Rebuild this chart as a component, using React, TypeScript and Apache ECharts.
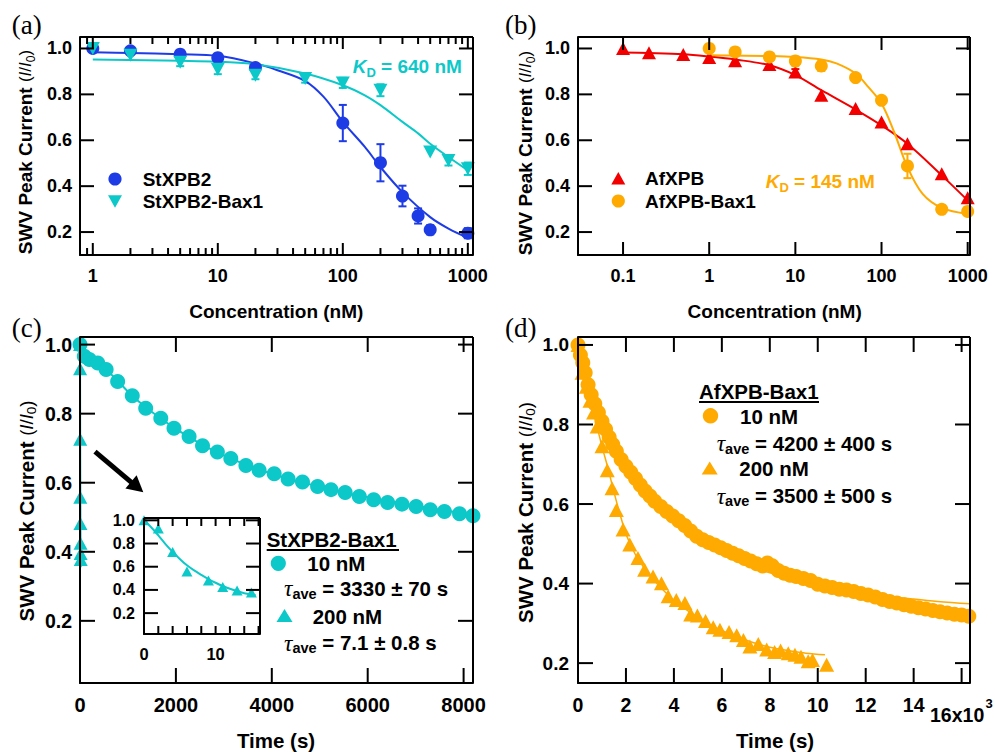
import React, { useEffect, useRef } from 'react';
import * as echarts from 'echarts';

const LS = 'Liberation Sans';
const SERIF = 'Liberation Serif';
const BLUE = '#1e3ce6';
const CYAN = '#0cc8c8';
const RED = '#f20000';
const ORANGE = '#ffaa00';

const stxpb2 = [[1, 1.0, 0.01], [2, 0.99, 0.01], [5, 0.975, 0.01], [10, 0.96, 0.01], [20, 0.917, 0.012], [100, 0.675, 0.079], [200, 0.502, 0.081], [300, 0.357, 0.045], [400, 0.27, 0.033], [500, 0.21, 0.02], [1000, 0.195, 0.022]];
const stxpb2Bax1 = [[1, 1.0, 0.0], [2, 0.97, 0.01], [5, 0.94, 0.017], [10, 0.91, 0.022], [20, 0.883, 0.017], [50, 0.869, 0.018], [100, 0.85, 0.022], [200, 0.818, 0.026], [500, 0.549, 0.01], [700, 0.512, 0.022], [1000, 0.476, 0.027]];
const stxpb2Fit = [[1, 0.983], [2, 0.98], [5, 0.975], [10, 0.968], [20, 0.935], [30, 0.905], [50, 0.858], [70, 0.79], [100, 0.68], [150, 0.571], [200, 0.483], [300, 0.374], [500, 0.265], [700, 0.215], [1000, 0.175]];
const stxpb2Bax1Fit = [[1, 0.952], [5, 0.946], [10, 0.942], [20, 0.931], [50, 0.891], [100, 0.84], [150, 0.796], [200, 0.753], [300, 0.68], [400, 0.63], [500, 0.585], [700, 0.527], [1000, 0.469]];

const afxpb = [[0.1, 1.0, 0], [0.2, 0.981, 0], [0.5, 0.974, 0], [1, 0.961, 0.01], [2, 0.946, 0.01], [5, 0.93, 0.01], [10, 0.898, 0.012], [20, 0.796, 0.01], [50, 0.738, 0.01], [100, 0.68, 0.01], [200, 0.585, 0.01], [500, 0.454, 0.01], [1000, 0.35, 0.01]];
const afxpbBax1 = [[1, 1.0, 0], [2, 0.985, 0.01], [5, 0.963, 0.015], [10, 0.945, 0.02], [20, 0.924, 0.022], [50, 0.873, 0.01], [100, 0.774, 0.015], [200, 0.488, 0.053], [500, 0.299, 0.018], [1000, 0.29, 0.018]];
const afxpbFit = [[0.1, 0.982], [0.2, 0.98], [0.5, 0.975], [1, 0.965], [2, 0.952], [5, 0.927], [10, 0.884], [20, 0.818], [50, 0.734], [100, 0.665], [200, 0.585], [500, 0.447], [1000, 0.338]];
const afxpbBax1Fit = [[1, 0.971], [5, 0.967], [10, 0.963], [20, 0.952], [30, 0.935], [50, 0.891], [70, 0.833], [100, 0.76], [140, 0.636], [200, 0.483], [300, 0.366], [500, 0.305], [1000, 0.279]];

const c10nM = [[0, 1.0], [90, 0.966], [195, 0.957], [370, 0.947], [545, 0.928], [785, 0.893], [1090, 0.852], [1370, 0.816], [1685, 0.787], [1960, 0.758], [2275, 0.734], [2555, 0.707], [2865, 0.689], [3145, 0.67], [3460, 0.65], [3735, 0.636], [4050, 0.626], [4340, 0.611], [4640, 0.602], [4955, 0.589], [5235, 0.58], [5530, 0.572], [5825, 0.56], [6125, 0.551], [6415, 0.543], [6715, 0.538], [7010, 0.531], [7305, 0.522], [7600, 0.517], [7915, 0.51], [8195, 0.504]];
const c10nMFit = [[0, 0.975], [200, 0.955], [400, 0.94], [600, 0.92], [800, 0.893], [1000, 0.864], [1200, 0.838], [1500, 0.805], [2000, 0.756], [2500, 0.714], [3000, 0.679], [3500, 0.65], [4000, 0.626], [4500, 0.606], [5000, 0.588], [5500, 0.572], [6000, 0.558], [6500, 0.545], [7000, 0.533], [7500, 0.522], [8000, 0.512], [8196, 0.508]];
const c200nM = [[0, 1.0], [2, 0.93], [4, 0.726], [6, 0.558], [9, 0.482], [11, 0.425], [13, 0.395], [15, 0.378]];
const c200nMFit = [[0, 1.0], [1, 0.94], [2, 0.87], [3, 0.795], [4, 0.728], [5, 0.667], [6, 0.612], [7, 0.568], [8, 0.53], [9, 0.494], [10, 0.462], [11, 0.434], [12, 0.41], [13, 0.39], [14, 0.372], [15, 0.36], [15.6, 0.355]];

const d10nM = [[0, 1.0], [100, 0.975], [200, 0.955], [300, 0.93], [420, 0.9], [550, 0.875], [700, 0.852], [850, 0.83], [1000, 0.808], [1150, 0.788], [1300, 0.768], [1450, 0.75], [1600, 0.733], [1800, 0.712], [2000, 0.695], [2200, 0.68], [2400, 0.664], [2600, 0.648], [2800, 0.633], [3000, 0.62], [3200, 0.607], [3450, 0.594], [3700, 0.581], [3950, 0.57], [4200, 0.558], [4450, 0.546], [4700, 0.532], [4950, 0.519], [5200, 0.51], [5450, 0.503], [5700, 0.497], [5950, 0.49], [6200, 0.483], [6450, 0.476], [6700, 0.47], [6950, 0.463], [7200, 0.457], [7450, 0.45], [7700, 0.444], [7900, 0.452], [8100, 0.445], [8350, 0.433], [8600, 0.426], [8850, 0.421], [9100, 0.418], [9400, 0.413], [9700, 0.408], [10000, 0.398], [10300, 0.394], [10600, 0.39], [10900, 0.386], [11200, 0.384], [11500, 0.38], [11800, 0.375], [12100, 0.371], [12400, 0.366], [12700, 0.36], [13000, 0.355], [13300, 0.351], [13600, 0.347], [13900, 0.343], [14200, 0.339], [14500, 0.336], [14800, 0.332], [15100, 0.329], [15400, 0.326], [15700, 0.323], [16000, 0.321], [16300, 0.318]];
const d10nMFit = [[0, 1.0], [250, 0.94], [500, 0.89], [750, 0.85], [1000, 0.81], [1500, 0.745], [2000, 0.695], [2500, 0.65], [3000, 0.613], [3500, 0.583], [4000, 0.556], [4500, 0.532], [5000, 0.51], [5500, 0.49], [6000, 0.472], [6500, 0.46], [7000, 0.448], [7500, 0.437], [8000, 0.427], [9000, 0.411], [10000, 0.398], [11000, 0.387], [12000, 0.377], [13000, 0.368], [14000, 0.361], [15000, 0.355], [16350, 0.349]];
const d200nM = [[0, 1.0], [170, 0.93], [350, 0.895], [500, 0.86], [650, 0.83], [800, 0.795], [1000, 0.745], [1220, 0.685], [1420, 0.64], [1600, 0.585], [1880, 0.536], [2160, 0.498], [2500, 0.464], [2780, 0.435], [3130, 0.418], [3480, 0.401], [3760, 0.368], [4100, 0.359], [4460, 0.351], [4700, 0.322], [4980, 0.32], [5320, 0.306], [5640, 0.29], [5920, 0.284], [6300, 0.278], [6620, 0.27], [6900, 0.258], [7170, 0.242], [7520, 0.248], [7870, 0.234], [8200, 0.228], [8450, 0.232], [8770, 0.225], [9050, 0.221], [9300, 0.216], [9600, 0.205], [9780, 0.208], [10370, 0.196]];
const d200nMFit = [[0, 1.0], [250, 0.93], [500, 0.865], [750, 0.805], [1000, 0.745], [1250, 0.69], [1500, 0.63], [1750, 0.575], [2000, 0.525], [2250, 0.49], [2500, 0.462], [3000, 0.42], [3500, 0.387], [4000, 0.358], [4500, 0.335], [5000, 0.315], [5500, 0.297], [6000, 0.282], [6500, 0.269], [7000, 0.258], [7500, 0.248], [8000, 0.24], [8500, 0.234], [9000, 0.229], [9500, 0.225], [10300, 0.221]];

const ticksLogA = [1, 10, 100, 1000];
const minorTicksA = [0.9, 2, 3, 4, 5, 6, 7, 8, 9, 20, 30, 40, 50, 60, 70, 80, 90, 200, 300, 400, 500, 600, 700, 800, 900];
const ticksLogB = [0.1, 1, 10, 100, 1000];
const ticksY = [0.2, 0.4, 0.6, 0.8, 1.0];
const ticksTimeC = [2000, 4000, 6000, 8000];
const ticksTimeD = [2000, 4000, 6000, 8000, 10000, 12000, 14000, 16000];
const ticksInsetX = [2, 4, 6, 8, 10, 12, 14, 16];

const rA = { x: [0.79, 1100], y: [0.1, 1.05] };
const rB = { x: [0.03, 1064], y: [0.1, 1.05] };
const rC = { x: [0, 8196], y: [0.02, 1.022] };
const rD = { x: [0, 16350], y: [0.15, 1.02] };
const rI = { x: [0, 16.2], y: [0.02, 1.02] };

const fmt02 = (v: number) => {
  const k = v * 5;
  return Math.abs(k - Math.round(k)) < 1e-6 && v > 0.15 ? v.toFixed(1) : '';
};
const fmtLog = (v: number) => {
  const l = Math.log10(v);
  const r = Math.round(l);
  if (Math.abs(l - r) > 1e-6) return '';
  return r >= 0 ? String(Math.pow(10, r)) : Math.pow(10, r).toFixed(-r);
};
const fmtC = (v: number) => (Math.abs(v % 2000) < 1e-6 ? String(v) : '');
const fmtD = (v: number) => (Math.abs(v % 2000) < 1e-6 && v < 15000 ? String(v / 1000) : '');
const fmtI = (v: number) => (v === 0 || v === 10 ? String(v) : '');

function mkAxis(dim: 'x' | 'y', gridIndex: number, base: any, fmt: any, fs: number, margin: number) {
  return {
    gridIndex,
    position: dim === 'x' ? 'bottom' : 'left',
    ...base,
    axisLine: { show: true, onZero: false, lineStyle: { color: '#000', width: 2 } },
    axisTick: { show: false },
    axisLabel: { show: true, formatter: fmt, color: '#000', fontFamily: LS, fontWeight: 'bold', fontSize: fs, margin },
    splitLine: { show: false },
    minorTick: { show: false },
  };
}

function errSeries(data: number[][], ai: number, color: string) {
  return {
    type: 'custom', xAxisIndex: ai, yAxisIndex: ai, silent: true, z: 3,
    data: data.filter((d) => d[2] > 0.011),
    encode: { x: 0, y: 1 },
    renderItem: (_p: any, api: any) => {
      const x = api.value(0), y = api.value(1), e = api.value(2);
      const t = api.coord([x, y + e]);
      const b = api.coord([x, y - e]);
      const w = 4;
      return {
        type: 'group', children: [
          { type: 'line', shape: { x1: t[0], y1: t[1], x2: b[0], y2: b[1] }, style: { stroke: color, lineWidth: 2 } },
          { type: 'line', shape: { x1: t[0] - w, y1: t[1], x2: t[0] + w, y2: t[1] }, style: { stroke: color, lineWidth: 2 } },
          { type: 'line', shape: { x1: b[0] - w, y1: b[1], x2: b[0] + w, y2: b[1] }, style: { stroke: color, lineWidth: 2 } },
        ],
      };
    },
  };
}

function fitLine(data: number[][], ai: number, color: string, width: number, clip = true) {
  return {
    type: 'line', xAxisIndex: ai, yAxisIndex: ai, data, showSymbol: false, symbol: 'none',
    smooth: 0.35, clip, silent: true, z: 4, lineStyle: { color, width },
  };
}

function scatter(name: string, data: number[][], ai: number, color: string, symbol: string, size: any, rotate = 0, z = 5) {
  return {
    type: 'scatter', name, xAxisIndex: ai, yAxisIndex: ai, data: data.map((d) => [d[0], d[1]]),
    symbol, symbolSize: size, symbolRotate: rotate, clip: false, silent: true, z,
    itemStyle: { color, opacity: 1 },
  };
}

const tauRich = (fs: number) => ({
  t: { fontFamily: SERIF, fontStyle: 'italic', fontSize: fs + 3, fill: '#000', lineHeight: fs + 6 },
  s: { fontFamily: LS, fontWeight: 'bold', fontSize: fs - 6, fill: '#000', verticalAlign: 'bottom', lineHeight: fs - 6 },
  b: { fontFamily: LS, fontWeight: 'bold', fontSize: fs, fill: '#000', lineHeight: fs + 6 },
});

const text = (x: number, y: number, t: string, extra: any = {}) => ({
  type: 'text', x, y, silent: true,
  style: { text: t, fontFamily: LS, fontWeight: 'bold', fontSize: 19, fill: '#000', align: 'center', verticalAlign: 'middle', ...extra },
});

const yTitle = (x: number, y: number, fs: number) => ({
  type: 'text', x, y, rotation: Math.PI / 2, silent: true,
  style: {
    text: '{b|SWV Peak Current }{p|(}{i|I}{p|/}{i|I}{s|0}{p|)}',
    align: 'center', verticalAlign: 'middle',
    rich: {
      b: { fontFamily: LS, fontWeight: 'bold', fontSize: fs, fill: '#000', lineHeight: fs + 4 },
      p: { fontFamily: LS, fontSize: fs - 2, fill: '#000', lineHeight: fs + 4 },
      i: { fontFamily: LS, fontStyle: 'italic', fontSize: fs - 2, fill: '#000', lineHeight: fs + 4 },
      s: { fontFamily: LS, fontSize: fs - 7, fill: '#000', verticalAlign: 'bottom', lineHeight: fs - 7 },
    },
  },
});

const kdText = (x: number, y: number, value: string, color: string) => ({
  type: 'text', x, y, silent: true,
  style: {
    text: `{k|K}{d|D}{b| = ${value}}`, align: 'left', verticalAlign: 'middle',
    rich: {
      k: { fontFamily: LS, fontWeight: 'bold', fontStyle: 'italic', fontSize: 19, fill: color, lineHeight: 24 },
      d: { fontFamily: LS, fontWeight: 'bold', fontSize: 13, fill: color, verticalAlign: 'bottom', lineHeight: 13 },
      b: { fontFamily: LS, fontWeight: 'bold', fontSize: 19, fill: color, lineHeight: 24 },
    },
  },
});

const tauText = (x: number, y: number, value: string) => ({
  type: 'text', x, y, silent: true,
  style: { text: `{t|τ}{s|ave}{b| = ${value}}`, align: 'left', verticalAlign: 'middle', rich: tauRich(20.5) },
});

const tri = (cx: number, cy: number, color: string, w = 8, h = 6.6) => ({
  type: 'polygon', silent: true,
  shape: { points: [[cx, cy - h], [cx - w, cy + h], [cx + w, cy + h]] },
  style: { fill: color },
});
const triDown = (cx: number, cy: number, color: string, w = 7, h = 6.3) => ({
  type: 'polygon', silent: true,
  shape: { points: [[cx - w, cy - h], [cx + w, cy - h], [cx, cy + h]] },
  style: { fill: color },
});
const dot = (cx: number, cy: number, r: number, color: string) => ({
  type: 'circle', silent: true, shape: { cx, cy, r }, style: { fill: color },
});
const seg = (xa: number, ya: number, xb: number, yb: number, w = 2, color = '#000') => ({
  type: 'line', silent: true, z: 100, shape: { x1: xa, y1: ya, x2: xb, y2: yb }, style: { stroke: color, lineWidth: w },
});

const frames = [
  { gi: 0, r: rA, xMajor: ticksLogA, xMinor: minorTicksA, yMajor: ticksY, xLen: 12, xMinLen: 7, yLen: 14 },
  { gi: 1, r: rB, xMajor: ticksLogB, xMinor: [] as number[], yMajor: ticksY, xLen: 13, xMinLen: 7, yLen: 14 },
  { gi: 2, r: rC, xMajor: ticksTimeC, xMinor: [] as number[], yMajor: ticksY, xLen: 15, xMinLen: 7, yLen: 15 },
  { gi: 3, r: rD, xMajor: ticksTimeD, xMinor: [] as number[], yMajor: ticksY, xLen: 15, xMinLen: 7, yLen: 15 },
  { gi: 4, r: rI, xMajor: ticksInsetX, xMinor: [] as number[], yMajor: ticksY, xLen: 8, xMinLen: 7, yLen: 14 },
];
const gridRects = [
  { left: 80, top: 37, width: 393, height: 218 },
  { left: 578, top: 37, width: 392, height: 218 },
  { left: 80, top: 337, width: 393, height: 346 },
  { left: 578, top: 337, width: 392, height: 346 },
  { left: 144, top: 518, width: 116, height: 116 },
];

export default function App() {
  const ref = useRef<HTMLDivElement>(null);
  useEffect(() => {
    if (!ref.current) return;
    const chart = echarts.init(ref.current, null, { renderer: 'svg' });
    const gridBase = { containLabel: false, outerBoundsMode: 'none', show: false };

    const graphic: any[] = [
      text(26.7, 25, '(a)', { fontFamily: SERIF, fontWeight: 'normal', fontSize: 27 }),
      text(520.8, 25, '(b)', { fontFamily: SERIF, fontWeight: 'normal', fontSize: 27 }),
      text(26.7, 328, '(c)', { fontFamily: SERIF, fontWeight: 'normal', fontSize: 27 }),
      text(520.8, 328, '(d)', { fontFamily: SERIF, fontWeight: 'normal', fontSize: 27 }),
      yTitle(25, 152, 19),
      yTitle(525, 153, 19),
      yTitle(26.7, 511, 20.5),
      yTitle(525, 512.5, 20.5),
      text(276.3, 311.7, 'Concentration (nM)'),
      text(774.7, 311.7, 'Concentration (nM)'),
      text(276, 740.7, 'Time (s)', { fontSize: 20.5 }),
      text(775, 740.7, 'Time (s)', { fontSize: 20.5 }),
      kdText(352.7, 66.7, '640 nM', CYAN),
      kdText(765.7, 181.7, '145 nM', ORANGE),
      dot(115, 179, 6.6, BLUE),
      text(142.7, 179, 'StXPB2', { align: 'left' }),
      triDown(115, 201.5, CYAN),
      text(142.7, 201, 'StXPB2-Bax1', { align: 'left' }),
      tri(618.3, 178.3, RED, 7, 6.3),
      text(645, 178.3, 'AfXPB', { align: 'left' }),
      dot(618.3, 201, 6.6, ORANGE),
      text(645, 201, 'AfXPB-Bax1', { align: 'left' }),
      text(930, 715, '16x10', { align: 'left', fontSize: 19.5 }),
      text(985.5, 703, '3', { align: 'left', fontSize: 13 }),
      { type: 'line', silent: true, shape: { x1: 95, y1: 451.7, x2: 132, y2: 482.8 }, style: { stroke: '#000', lineWidth: 5 } },
      { type: 'polygon', silent: true, shape: { points: [[143.3, 492.3], [125.4, 488.6], [136.6, 475.3]] }, style: { fill: '#000' } },
      text(266.7, 539.3, 'StXPB2-Bax1', { align: 'left', fontSize: 20.5 }),
      seg(266.7, 550, 399, 550),
      dot(278.3, 563.3, 7.6, CYAN),
      text(307.3, 563.3, '10 nM', { align: 'left', fontSize: 20.5 }),
      tauText(284, 588.3, '3330 ± 70 s'),
      tri(284.5, 615.5, CYAN),
      text(312.7, 616, '200 nM', { align: 'left', fontSize: 20.5 }),
      tauText(284, 642.7, '7.1 ± 0.8 s'),
      text(699, 391.7, 'AfXPB-Bax1', { align: 'left', fontSize: 20.5 }),
      seg(699, 402, 819, 402),
      dot(710.5, 415.8, 7.7, ORANGE),
      text(740, 416, '10 nM', { align: 'left', fontSize: 20.5 }),
      tauText(716.7, 443.3, '4200 ± 400 s'),
      tri(709.7, 468, ORANGE),
      text(739.3, 468.3, '200 nM', { align: 'left', fontSize: 20.5 }),
      tauText(716.7, 495.7, '3500 ± 500 s'),
    ];
    const option: any = {
      animation: false,
      backgroundColor: '#fff',
      grid: gridRects.map((g, i) => (i === 4 ? { ...gridBase, ...g, show: true, backgroundColor: '#fff', borderWidth: 0 } : { ...gridBase, ...g })),
      xAxis: [
        mkAxis('x', 0, { type: 'log', logBase: 10, min: rA.x[0], max: rA.x[1] }, fmtLog, 18, 12),
        mkAxis('x', 1, { type: 'log', logBase: 10, min: rB.x[0], max: rB.x[1] }, fmtLog, 18, 12),
        mkAxis('x', 2, { type: 'value', min: rC.x[0], max: rC.x[1], interval: 2000 }, fmtC, 20, 12),
        mkAxis('x', 3, { type: 'value', min: rD.x[0], max: rD.x[1], interval: 2000 }, fmtD, 19.5, 12),
        mkAxis('x', 4, { type: 'value', min: rI.x[0], max: rI.x[1], interval: 2 }, fmtI, 16.5, 11),
      ],
      yAxis: [
        mkAxis('y', 0, { type: 'value', min: rA.y[0], max: rA.y[1] }, fmt02, 18, 8),
        mkAxis('y', 1, { type: 'value', min: rB.y[0], max: rB.y[1] }, fmt02, 18, 8),
        mkAxis('y', 2, { type: 'value', min: rC.y[0], max: rC.y[1] }, fmt02, 19.5, 8),
        mkAxis('y', 3, { type: 'value', min: rD.y[0], max: rD.y[1] }, fmt02, 19, 9),
        mkAxis('y', 4, { type: 'value', min: rI.y[0], max: rI.y[1] }, fmt02, 16, 9),
      ],
      series: [
        fitLine(stxpb2Fit, 0, BLUE, 2),
        fitLine(stxpb2Bax1Fit, 0, CYAN, 2),
        errSeries(stxpb2, 0, BLUE),
        errSeries(stxpb2Bax1, 0, CYAN),
        scatter('StXPB2', stxpb2, 0, BLUE, 'circle', 13),
        scatter('StXPB2-Bax1', stxpb2Bax1, 0, CYAN, 'triangle', [14, 13], 180, 6),
        fitLine(afxpbFit, 1, RED, 2),
        fitLine(afxpbBax1Fit, 1, ORANGE, 2),
        errSeries(afxpb, 1, RED),
        errSeries(afxpbBax1, 1, ORANGE),
        scatter('AfXPB', afxpb, 1, RED, 'triangle', [14, 13]),
        scatter('AfXPB-Bax1', afxpbBax1, 1, ORANGE, 'circle', 13, 0, 6),
        scatter('StXPB2-Bax1 200 nM', c200nM, 2, CYAN, 'triangle', [14, 13]),
        fitLine(c200nMFit, 2, CYAN, 2, false),
        fitLine(c10nMFit, 2, CYAN, 2),
        scatter('StXPB2-Bax1 10 nM', c10nM, 2, CYAN, 'circle', 15, 0, 6),
        scatter('AfXPB-Bax1 200 nM', d200nM, 3, ORANGE, 'triangle', [15, 14]),
        scatter('AfXPB-Bax1 10 nM', d10nM, 3, ORANGE, 'circle', 15, 0, 6),
        fitLine(d200nMFit, 3, ORANGE, 1.5),
        { ...fitLine(d10nMFit, 3, ORANGE, 1.5), z: 7 },
        fitLine(c200nMFit, 4, CYAN, 2),
        scatter('StXPB2-Bax1 200 nM inset', c200nM, 4, CYAN, 'triangle', [11, 10]),
      ],
      graphic,
    };
    chart.setOption(option);

    // frames + inside ticks on all four sides, placed with the axes' own scales
    const extra: any[] = [];
    frames.forEach((f) => {
      const g = gridRects[f.gi];
      const isLog = f.gi < 2;
      const tx = (v: number) => (isLog ? Math.log10(v) : v);
      const P = (x: number, y: number): number[] => {
        let p: any = null;
        try {
          p = chart.convertToPixel({ xAxisIndex: f.gi, yAxisIndex: f.gi } as any, [x, y]);
        } catch (e) {
          p = null;
        }
        if (p && isFinite(p[0]) && isFinite(p[1])) return p;
        return [
          g.left + ((tx(x) - tx(f.r.x[0])) / (tx(f.r.x[1]) - tx(f.r.x[0]))) * g.width,
          g.top + g.height - ((y - f.r.y[0]) / (f.r.y[1] - f.r.y[0])) * g.height,
        ];
      };
      const a = P(f.r.x[0], f.r.y[1]);
      const b = P(f.r.x[1], f.r.y[0]);
      const L = a[0], T = a[1], R = b[0], B = b[1];
      extra.push(seg(L, T, R, T), seg(R, T, R, B), seg(L, B, R, B), seg(L, T, L, B));
      const addX = (v: number, len: number) => {
        const px = P(v, f.r.y[0])[0];
        extra.push(seg(px, B, px, B - len), seg(px, T, px, T + len));
      };
      f.xMajor.forEach((v) => addX(v, f.xLen));
      f.xMinor.forEach((v) => addX(v, f.xMinLen));
      f.yMajor.forEach((v) => {
        const py = P(f.r.x[0], v)[1];
        extra.push(seg(L, py, L + f.yLen, py), seg(R, py, R - f.yLen, py));
      });
    });
    chart.setOption({ graphic: [...graphic, ...extra] });
    return () => chart.dispose();
  }, []);
  return <div ref={ref} style={{ position: 'fixed', left: 0, top: 0, width: 995, height: 752 }} />;
}
